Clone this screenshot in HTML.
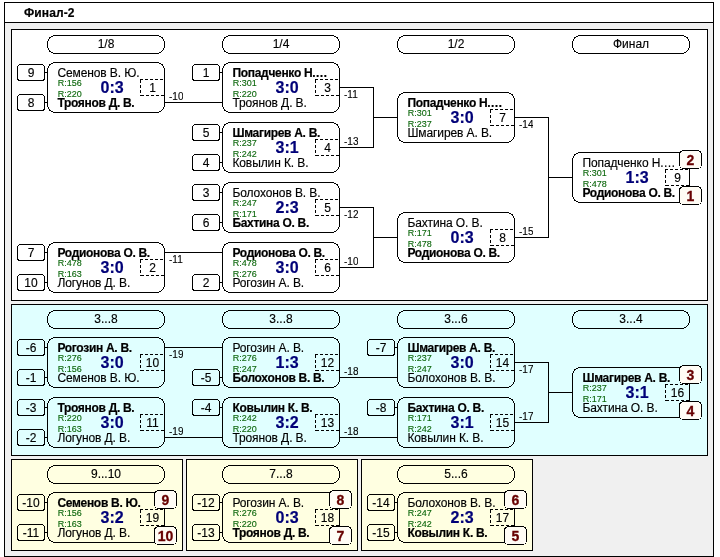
<!DOCTYPE html>
<html lang="ru">
<head>
<meta charset="utf-8">
<title>Финал-2</title>
<style>
html,body{margin:0;padding:0;background:#fff;}
body{width:720px;height:557px;overflow:hidden;position:relative;font-family:"Liberation Sans",sans-serif;color:#000;}
#g{position:absolute;left:0;top:0;width:720px;height:557px;}
#g rect{shape-rendering:crispEdges;}
#g .d{fill:none;stroke:#000;stroke-width:1;stroke-dasharray:3 2;shape-rendering:crispEdges;}
#t{position:absolute;left:0;top:0;width:720px;height:557px;will-change:transform;}
#t span{position:absolute;white-space:nowrap;line-height:20px;height:20px;overflow:hidden;}
.n,.h{font-size:12px;-webkit-text-stroke:0.15px #000;letter-spacing:-0.1px;}
.b{font-weight:bold;letter-spacing:-0.3px;-webkit-text-stroke:0.2px #000;}
.tt{font-weight:bold;letter-spacing:0.1px;-webkit-text-stroke:0.2px #000;}
.h{letter-spacing:0;}
.r{font-size:9px;color:#0b660b;-webkit-text-stroke:0.12px #0b660b;}
.s{font-size:16px;font-weight:bold;color:#000078;-webkit-text-stroke:0.2px #000078;}
.l{font-size:10px;-webkit-text-stroke:0.12px #000;}
.p{font-size:14px;font-weight:bold;color:#680000;-webkit-text-stroke:0.3px #680000;}
.c{text-align:center;}
</style>
</head>
<body>
<svg id="g" width="720" height="557" viewBox="0 0 720 557">
<rect x="4.5" y="2.5" width="709" height="554" fill="#f0f0f0" stroke="#000" shape-rendering="crispEdges"/>
<rect x="5" y="3" width="708" height="19" fill="#fff"/>
<rect x="4" y="22" width="710" height="1"/>
<rect x="11.5" y="29.5" width="696" height="271" fill="#ffffff" stroke="#000" shape-rendering="crispEdges"/>
<rect x="47.5" y="35.5" width="117" height="18" rx="8" ry="8" fill="#ffffff" stroke="#000"/>
<rect x="222.5" y="35.5" width="117" height="18" rx="8" ry="8" fill="#ffffff" stroke="#000"/>
<rect x="397.5" y="35.5" width="117" height="18" rx="8" ry="8" fill="#ffffff" stroke="#000"/>
<rect x="572.5" y="35.5" width="117" height="18" rx="8" ry="8" fill="#ffffff" stroke="#000"/>
<rect x="47.5" y="62.5" width="117" height="50" rx="8" ry="8" fill="#ffffff" stroke="#000"/>
<rect x="17.5" y="64.5" width="27" height="16" rx="3" ry="3" fill="#ffffff" stroke="#000"/>
<rect x="45" y="72" width="2" height="1"/>
<rect x="17.5" y="94.5" width="27" height="16" rx="3" ry="3" fill="#ffffff" stroke="#000"/>
<rect x="45" y="102" width="2" height="1"/>
<path class="d" d="M140 79.5H164M140.5 80V96M141 95.5H164"/>
<rect x="47.5" y="242.5" width="117" height="50" rx="8" ry="8" fill="#ffffff" stroke="#000"/>
<rect x="17.5" y="244.5" width="27" height="16" rx="3" ry="3" fill="#ffffff" stroke="#000"/>
<rect x="45" y="252" width="2" height="1"/>
<rect x="17.5" y="274.5" width="27" height="16" rx="3" ry="3" fill="#ffffff" stroke="#000"/>
<rect x="45" y="282" width="2" height="1"/>
<path class="d" d="M140 259.5H164M140.5 260V276M141 275.5H164"/>
<rect x="222.5" y="62.5" width="117" height="50" rx="8" ry="8" fill="#ffffff" stroke="#000"/>
<rect x="192.5" y="64.5" width="27" height="16" rx="3" ry="3" fill="#ffffff" stroke="#000"/>
<rect x="220" y="72" width="2" height="1"/>
<path class="d" d="M315 79.5H339M315.5 80V96M316 95.5H339"/>
<rect x="222.5" y="122.5" width="117" height="50" rx="8" ry="8" fill="#ffffff" stroke="#000"/>
<rect x="192.5" y="124.5" width="27" height="16" rx="3" ry="3" fill="#ffffff" stroke="#000"/>
<rect x="220" y="132" width="2" height="1"/>
<rect x="192.5" y="154.5" width="27" height="16" rx="3" ry="3" fill="#ffffff" stroke="#000"/>
<rect x="220" y="162" width="2" height="1"/>
<path class="d" d="M315 139.5H339M315.5 140V156M316 155.5H339"/>
<rect x="222.5" y="182.5" width="117" height="50" rx="8" ry="8" fill="#ffffff" stroke="#000"/>
<rect x="192.5" y="184.5" width="27" height="16" rx="3" ry="3" fill="#ffffff" stroke="#000"/>
<rect x="220" y="192" width="2" height="1"/>
<rect x="192.5" y="214.5" width="27" height="16" rx="3" ry="3" fill="#ffffff" stroke="#000"/>
<rect x="220" y="222" width="2" height="1"/>
<path class="d" d="M315 199.5H339M315.5 200V216M316 215.5H339"/>
<rect x="222.5" y="242.5" width="117" height="50" rx="8" ry="8" fill="#ffffff" stroke="#000"/>
<rect x="192.5" y="274.5" width="27" height="16" rx="3" ry="3" fill="#ffffff" stroke="#000"/>
<rect x="220" y="282" width="2" height="1"/>
<path class="d" d="M315 259.5H339M315.5 260V276M316 275.5H339"/>
<rect x="397.5" y="92.5" width="117" height="50" rx="8" ry="8" fill="#ffffff" stroke="#000"/>
<path class="d" d="M490 109.5H514M490.5 110V126M491 125.5H514"/>
<rect x="397.5" y="212.5" width="117" height="50" rx="8" ry="8" fill="#ffffff" stroke="#000"/>
<path class="d" d="M490 229.5H514M490.5 230V246M491 245.5H514"/>
<rect x="572.5" y="152.5" width="117" height="50" rx="8" ry="8" fill="#ffffff" stroke="#000"/>
<path class="d" d="M665 169.5H689M665.5 170V186M666 185.5H689"/>
<rect x="679.5" y="150.5" width="22" height="18" rx="4" ry="4" fill="#fffcf5" stroke="#000"/>
<rect x="679.5" y="186.5" width="22" height="18" rx="4" ry="4" fill="#fffcf5" stroke="#000"/>
<rect x="165" y="102" width="57" height="1"/>
<rect x="165" y="252" width="57" height="1"/>
<rect x="340" y="87" width="34" height="1"/>
<rect x="340" y="147" width="34" height="1"/>
<rect x="373" y="87" width="1" height="61"/>
<rect x="373" y="117" width="24" height="1"/>
<rect x="340" y="207" width="34" height="1"/>
<rect x="340" y="267" width="34" height="1"/>
<rect x="373" y="207" width="1" height="61"/>
<rect x="373" y="237" width="24" height="1"/>
<rect x="515" y="117" width="34" height="1"/>
<rect x="515" y="237" width="34" height="1"/>
<rect x="548" y="117" width="1" height="121"/>
<rect x="548" y="177" width="24" height="1"/>
<rect x="11.5" y="304.5" width="696" height="151" fill="#e0ffff" stroke="#000" shape-rendering="crispEdges"/>
<rect x="47.5" y="310.5" width="117" height="18" rx="8" ry="8" fill="#e0ffff" stroke="#000"/>
<rect x="222.5" y="310.5" width="117" height="18" rx="8" ry="8" fill="#e0ffff" stroke="#000"/>
<rect x="397.5" y="310.5" width="117" height="18" rx="8" ry="8" fill="#e0ffff" stroke="#000"/>
<rect x="572.5" y="310.5" width="117" height="18" rx="8" ry="8" fill="#e0ffff" stroke="#000"/>
<rect x="47.5" y="337.5" width="117" height="50" rx="8" ry="8" fill="#e0ffff" stroke="#000"/>
<rect x="17.5" y="339.5" width="27" height="16" rx="3" ry="3" fill="#e0ffff" stroke="#000"/>
<rect x="45" y="347" width="2" height="1"/>
<rect x="17.5" y="369.5" width="27" height="16" rx="3" ry="3" fill="#e0ffff" stroke="#000"/>
<rect x="45" y="377" width="2" height="1"/>
<path class="d" d="M140 354.5H164M140.5 355V371M141 370.5H164"/>
<rect x="47.5" y="397.5" width="117" height="50" rx="8" ry="8" fill="#e0ffff" stroke="#000"/>
<rect x="17.5" y="399.5" width="27" height="16" rx="3" ry="3" fill="#e0ffff" stroke="#000"/>
<rect x="45" y="407" width="2" height="1"/>
<rect x="17.5" y="429.5" width="27" height="16" rx="3" ry="3" fill="#e0ffff" stroke="#000"/>
<rect x="45" y="437" width="2" height="1"/>
<path class="d" d="M140 414.5H164M140.5 415V431M141 430.5H164"/>
<rect x="222.5" y="337.5" width="117" height="50" rx="8" ry="8" fill="#e0ffff" stroke="#000"/>
<rect x="192.5" y="369.5" width="27" height="16" rx="3" ry="3" fill="#e0ffff" stroke="#000"/>
<rect x="220" y="377" width="2" height="1"/>
<path class="d" d="M315 354.5H339M315.5 355V371M316 370.5H339"/>
<rect x="222.5" y="397.5" width="117" height="50" rx="8" ry="8" fill="#e0ffff" stroke="#000"/>
<rect x="192.5" y="399.5" width="27" height="16" rx="3" ry="3" fill="#e0ffff" stroke="#000"/>
<rect x="220" y="407" width="2" height="1"/>
<path class="d" d="M315 414.5H339M315.5 415V431M316 430.5H339"/>
<rect x="397.5" y="337.5" width="117" height="50" rx="8" ry="8" fill="#e0ffff" stroke="#000"/>
<rect x="367.5" y="339.5" width="27" height="16" rx="3" ry="3" fill="#e0ffff" stroke="#000"/>
<rect x="395" y="347" width="2" height="1"/>
<path class="d" d="M490 354.5H514M490.5 355V371M491 370.5H514"/>
<rect x="397.5" y="397.5" width="117" height="50" rx="8" ry="8" fill="#e0ffff" stroke="#000"/>
<rect x="367.5" y="399.5" width="27" height="16" rx="3" ry="3" fill="#e0ffff" stroke="#000"/>
<rect x="395" y="407" width="2" height="1"/>
<path class="d" d="M490 414.5H514M490.5 415V431M491 430.5H514"/>
<rect x="572.5" y="367.5" width="117" height="50" rx="8" ry="8" fill="#e0ffff" stroke="#000"/>
<path class="d" d="M665 384.5H689M665.5 385V401M666 400.5H689"/>
<rect x="679.5" y="365.5" width="22" height="18" rx="4" ry="4" fill="#fffcf5" stroke="#000"/>
<rect x="679.5" y="401.5" width="22" height="18" rx="4" ry="4" fill="#fffcf5" stroke="#000"/>
<rect x="165" y="347" width="57" height="1"/>
<rect x="165" y="437" width="57" height="1"/>
<rect x="340" y="377" width="57" height="1"/>
<rect x="340" y="437" width="57" height="1"/>
<rect x="515" y="362" width="34" height="1"/>
<rect x="515" y="422" width="34" height="1"/>
<rect x="548" y="362" width="1" height="61"/>
<rect x="548" y="392" width="24" height="1"/>
<rect x="11.5" y="459.5" width="171" height="91" fill="#ffffe1" stroke="#000" shape-rendering="crispEdges"/>
<rect x="47.5" y="465.5" width="117" height="18" rx="8" ry="8" fill="#ffffe1" stroke="#000"/>
<rect x="186.5" y="459.5" width="171" height="91" fill="#ffffe1" stroke="#000" shape-rendering="crispEdges"/>
<rect x="222.5" y="465.5" width="117" height="18" rx="8" ry="8" fill="#ffffe1" stroke="#000"/>
<rect x="361.5" y="459.5" width="171" height="91" fill="#ffffe1" stroke="#000" shape-rendering="crispEdges"/>
<rect x="397.5" y="465.5" width="117" height="18" rx="8" ry="8" fill="#ffffe1" stroke="#000"/>
<rect x="47.5" y="492.5" width="117" height="50" rx="8" ry="8" fill="#ffffe1" stroke="#000"/>
<rect x="17.5" y="494.5" width="27" height="16" rx="3" ry="3" fill="#ffffe1" stroke="#000"/>
<rect x="45" y="502" width="2" height="1"/>
<rect x="17.5" y="524.5" width="27" height="16" rx="3" ry="3" fill="#ffffe1" stroke="#000"/>
<rect x="45" y="532" width="2" height="1"/>
<path class="d" d="M140 509.5H164M140.5 510V526M141 525.5H164"/>
<rect x="154.5" y="490.5" width="22" height="18" rx="4" ry="4" fill="#fffcf5" stroke="#000"/>
<rect x="154.5" y="526.5" width="22" height="18" rx="4" ry="4" fill="#fffcf5" stroke="#000"/>
<rect x="222.5" y="492.5" width="117" height="50" rx="8" ry="8" fill="#ffffe1" stroke="#000"/>
<rect x="192.5" y="494.5" width="27" height="16" rx="3" ry="3" fill="#ffffe1" stroke="#000"/>
<rect x="220" y="502" width="2" height="1"/>
<rect x="192.5" y="524.5" width="27" height="16" rx="3" ry="3" fill="#ffffe1" stroke="#000"/>
<rect x="220" y="532" width="2" height="1"/>
<path class="d" d="M315 509.5H339M315.5 510V526M316 525.5H339"/>
<rect x="329.5" y="490.5" width="22" height="18" rx="4" ry="4" fill="#fffcf5" stroke="#000"/>
<rect x="329.5" y="526.5" width="22" height="18" rx="4" ry="4" fill="#fffcf5" stroke="#000"/>
<rect x="397.5" y="492.5" width="117" height="50" rx="8" ry="8" fill="#ffffe1" stroke="#000"/>
<rect x="367.5" y="494.5" width="27" height="16" rx="3" ry="3" fill="#ffffe1" stroke="#000"/>
<rect x="395" y="502" width="2" height="1"/>
<rect x="367.5" y="524.5" width="27" height="16" rx="3" ry="3" fill="#ffffe1" stroke="#000"/>
<rect x="395" y="532" width="2" height="1"/>
<path class="d" d="M490 509.5H514M490.5 510V526M491 525.5H514"/>
<rect x="504.5" y="490.5" width="22" height="18" rx="4" ry="4" fill="#fffcf5" stroke="#000"/>
<rect x="504.5" y="526.5" width="22" height="18" rx="4" ry="4" fill="#fffcf5" stroke="#000"/>
</svg>
<div id="t">
<span class="n tt" style="top:2.84px;left:24px;">Финал-2</span>
<span class="h c" style="top:33.84px;left:66.0px;width:80px;">1/8</span>
<span class="h c" style="top:33.84px;left:241.0px;width:80px;">1/4</span>
<span class="h c" style="top:33.84px;left:416.0px;width:80px;">1/2</span>
<span class="h c" style="top:33.84px;left:591.0px;width:80px;">Финал</span>
<span class="h c" style="top:62.84px;left:-9.0px;width:80px;">9</span>
<span class="h c" style="top:92.84px;left:-9.0px;width:80px;">8</span>
<span class="n" style="top:62.84px;left:57.4px;">Семенов В. Ю.</span>
<span class="r" style="top:72.58px;left:57.7px;">R:156</span>
<span class="r" style="top:83.58px;left:57.7px;">R:220</span>
<span class="n b" style="top:92.84px;left:57.4px;">Троянов Д. В.</span>
<span class="s" style="top:78.26px;left:100.5px;">0:3</span>
<span class="h c" style="top:77.84px;left:112.5px;width:80px;">1</span>
<span class="h c" style="top:242.84px;left:-9.0px;width:80px;">7</span>
<span class="h c" style="top:272.84px;left:-9.0px;width:80px;">10</span>
<span class="n b" style="top:242.84px;left:57.4px;">Родионова О. В.</span>
<span class="r" style="top:252.58px;left:57.7px;">R:478</span>
<span class="r" style="top:263.58px;left:57.7px;">R:163</span>
<span class="n" style="top:272.84px;left:57.4px;">Логунов Д. В.</span>
<span class="s" style="top:258.26px;left:100.5px;">3:0</span>
<span class="h c" style="top:257.84px;left:112.5px;width:80px;">2</span>
<span class="h c" style="top:62.84px;left:166.0px;width:80px;">1</span>
<span class="n b" style="top:62.84px;left:232.4px;">Попадченко Н.…</span>
<span class="r" style="top:72.58px;left:232.7px;">R:301</span>
<span class="r" style="top:83.58px;left:232.7px;">R:220</span>
<span class="n" style="top:92.84px;left:232.4px;">Троянов Д. В.</span>
<span class="s" style="top:78.26px;left:275.5px;">3:0</span>
<span class="h c" style="top:77.84px;left:287.5px;width:80px;">3</span>
<span class="h c" style="top:122.84px;left:166.0px;width:80px;">5</span>
<span class="h c" style="top:152.84px;left:166.0px;width:80px;">4</span>
<span class="n b" style="top:122.84px;left:232.4px;">Шмагирев А. В.</span>
<span class="r" style="top:132.58px;left:232.7px;">R:237</span>
<span class="r" style="top:143.58px;left:232.7px;">R:242</span>
<span class="n" style="top:152.84px;left:232.4px;">Ковылин К. В.</span>
<span class="s" style="top:138.26px;left:275.5px;">3:1</span>
<span class="h c" style="top:137.84px;left:287.5px;width:80px;">4</span>
<span class="h c" style="top:182.84px;left:166.0px;width:80px;">3</span>
<span class="h c" style="top:212.84px;left:166.0px;width:80px;">6</span>
<span class="n" style="top:182.84px;left:232.4px;">Болохонов В. В.</span>
<span class="r" style="top:192.58px;left:232.7px;">R:247</span>
<span class="r" style="top:203.58px;left:232.7px;">R:171</span>
<span class="n b" style="top:212.84px;left:232.4px;">Бахтина О. В.</span>
<span class="s" style="top:198.26px;left:275.5px;">2:3</span>
<span class="h c" style="top:197.84px;left:287.5px;width:80px;">5</span>
<span class="h c" style="top:272.84px;left:166.0px;width:80px;">2</span>
<span class="n b" style="top:242.84px;left:232.4px;">Родионова О. В.</span>
<span class="r" style="top:252.58px;left:232.7px;">R:478</span>
<span class="r" style="top:263.58px;left:232.7px;">R:276</span>
<span class="n" style="top:272.84px;left:232.4px;">Рогозин А. В.</span>
<span class="s" style="top:258.26px;left:275.5px;">3:0</span>
<span class="h c" style="top:257.84px;left:287.5px;width:80px;">6</span>
<span class="n b" style="top:92.84px;left:407.4px;">Попадченко Н.…</span>
<span class="r" style="top:102.58px;left:407.7px;">R:301</span>
<span class="r" style="top:113.58px;left:407.7px;">R:237</span>
<span class="n" style="top:122.84px;left:407.4px;">Шмагирев А. В.</span>
<span class="s" style="top:108.26px;left:450.5px;">3:0</span>
<span class="h c" style="top:107.84px;left:462.5px;width:80px;">7</span>
<span class="n" style="top:212.84px;left:407.4px;">Бахтина О. В.</span>
<span class="r" style="top:222.58px;left:407.7px;">R:171</span>
<span class="r" style="top:233.58px;left:407.7px;">R:478</span>
<span class="n b" style="top:242.84px;left:407.4px;">Родионова О. В.</span>
<span class="s" style="top:228.26px;left:450.5px;">0:3</span>
<span class="h c" style="top:227.84px;left:462.5px;width:80px;">8</span>
<span class="n" style="top:152.84px;left:582.4px;width:97px;">Попадченко Н.…</span>
<span class="r" style="top:162.58px;left:582.7px;">R:301</span>
<span class="r" style="top:173.58px;left:582.7px;">R:478</span>
<span class="n b" style="top:182.84px;left:582.4px;width:97px;">Родионова О. В.</span>
<span class="s" style="top:168.26px;left:625.5px;">1:3</span>
<span class="h c" style="top:167.84px;left:637.5px;width:80px;">9</span>
<span class="p c" style="top:150.15px;left:650.5px;width:80px;">2</span>
<span class="p c" style="top:186.15px;left:650.5px;width:80px;">1</span>
<span class="l" style="top:86.53px;left:169px;">-10</span>
<span class="l" style="top:249.53px;left:169px;">-11</span>
<span class="l" style="top:84.53px;left:344px;">-11</span>
<span class="l" style="top:131.53px;left:344px;">-13</span>
<span class="l" style="top:204.53px;left:344px;">-12</span>
<span class="l" style="top:251.53px;left:344px;">-10</span>
<span class="l" style="top:114.53px;left:519px;">-14</span>
<span class="l" style="top:221.53px;left:519px;">-15</span>
<span class="h c" style="top:308.84px;left:66.0px;width:80px;">3...8</span>
<span class="h c" style="top:308.84px;left:241.0px;width:80px;">3...8</span>
<span class="h c" style="top:308.84px;left:416.0px;width:80px;">3...6</span>
<span class="h c" style="top:308.84px;left:591.0px;width:80px;">3...4</span>
<span class="h c" style="top:337.84px;left:-9.0px;width:80px;">-6</span>
<span class="h c" style="top:367.84px;left:-9.0px;width:80px;">-1</span>
<span class="n b" style="top:337.84px;left:57.4px;">Рогозин А. В.</span>
<span class="r" style="top:347.58px;left:57.7px;">R:276</span>
<span class="r" style="top:358.58px;left:57.7px;">R:156</span>
<span class="n" style="top:367.84px;left:57.4px;">Семенов В. Ю.</span>
<span class="s" style="top:353.26px;left:100.5px;">3:0</span>
<span class="h c" style="top:352.84px;left:112.5px;width:80px;">10</span>
<span class="h c" style="top:397.84px;left:-9.0px;width:80px;">-3</span>
<span class="h c" style="top:427.84px;left:-9.0px;width:80px;">-2</span>
<span class="n b" style="top:397.84px;left:57.4px;">Троянов Д. В.</span>
<span class="r" style="top:407.58px;left:57.7px;">R:220</span>
<span class="r" style="top:418.58px;left:57.7px;">R:163</span>
<span class="n" style="top:427.84px;left:57.4px;">Логунов Д. В.</span>
<span class="s" style="top:413.26px;left:100.5px;">3:0</span>
<span class="h c" style="top:412.84px;left:112.5px;width:80px;">11</span>
<span class="h c" style="top:367.84px;left:166.0px;width:80px;">-5</span>
<span class="n" style="top:337.84px;left:232.4px;">Рогозин А. В.</span>
<span class="r" style="top:347.58px;left:232.7px;">R:276</span>
<span class="r" style="top:358.58px;left:232.7px;">R:247</span>
<span class="n b" style="top:367.84px;left:232.4px;">Болохонов В. В.</span>
<span class="s" style="top:353.26px;left:275.5px;">1:3</span>
<span class="h c" style="top:352.84px;left:287.5px;width:80px;">12</span>
<span class="h c" style="top:397.84px;left:166.0px;width:80px;">-4</span>
<span class="n b" style="top:397.84px;left:232.4px;">Ковылин К. В.</span>
<span class="r" style="top:407.58px;left:232.7px;">R:242</span>
<span class="r" style="top:418.58px;left:232.7px;">R:220</span>
<span class="n" style="top:427.84px;left:232.4px;">Троянов Д. В.</span>
<span class="s" style="top:413.26px;left:275.5px;">3:2</span>
<span class="h c" style="top:412.84px;left:287.5px;width:80px;">13</span>
<span class="h c" style="top:337.84px;left:341.0px;width:80px;">-7</span>
<span class="n b" style="top:337.84px;left:407.4px;">Шмагирев А. В.</span>
<span class="r" style="top:347.58px;left:407.7px;">R:237</span>
<span class="r" style="top:358.58px;left:407.7px;">R:247</span>
<span class="n" style="top:367.84px;left:407.4px;">Болохонов В. В.</span>
<span class="s" style="top:353.26px;left:450.5px;">3:0</span>
<span class="h c" style="top:352.84px;left:462.5px;width:80px;">14</span>
<span class="h c" style="top:397.84px;left:341.0px;width:80px;">-8</span>
<span class="n b" style="top:397.84px;left:407.4px;">Бахтина О. В.</span>
<span class="r" style="top:407.58px;left:407.7px;">R:171</span>
<span class="r" style="top:418.58px;left:407.7px;">R:242</span>
<span class="n" style="top:427.84px;left:407.4px;">Ковылин К. В.</span>
<span class="s" style="top:413.26px;left:450.5px;">3:1</span>
<span class="h c" style="top:412.84px;left:462.5px;width:80px;">15</span>
<span class="n b" style="top:367.84px;left:582.4px;width:97px;">Шмагирев А. В.</span>
<span class="r" style="top:377.58px;left:582.7px;">R:237</span>
<span class="r" style="top:388.58px;left:582.7px;">R:171</span>
<span class="n" style="top:397.84px;left:582.4px;width:97px;">Бахтина О. В.</span>
<span class="s" style="top:383.26px;left:625.5px;">3:1</span>
<span class="h c" style="top:382.84px;left:637.5px;width:80px;">16</span>
<span class="p c" style="top:365.15px;left:650.5px;width:80px;">3</span>
<span class="p c" style="top:401.15px;left:650.5px;width:80px;">4</span>
<span class="l" style="top:344.54px;left:169px;">-19</span>
<span class="l" style="top:421.54px;left:169px;">-19</span>
<span class="l" style="top:361.54px;left:344px;">-18</span>
<span class="l" style="top:421.54px;left:344px;">-18</span>
<span class="l" style="top:359.54px;left:519px;">-17</span>
<span class="l" style="top:406.54px;left:519px;">-17</span>
<span class="h c" style="top:463.84px;left:66.0px;width:80px;">9...10</span>
<span class="h c" style="top:463.84px;left:241.0px;width:80px;">7...8</span>
<span class="h c" style="top:463.84px;left:416.0px;width:80px;">5...6</span>
<span class="h c" style="top:492.84px;left:-9.0px;width:80px;">-10</span>
<span class="h c" style="top:522.84px;left:-9.0px;width:80px;">-11</span>
<span class="n b" style="top:492.84px;left:57.4px;width:97px;">Семенов В. Ю.</span>
<span class="r" style="top:502.58px;left:57.7px;">R:156</span>
<span class="r" style="top:513.58px;left:57.7px;">R:163</span>
<span class="n" style="top:522.84px;left:57.4px;width:97px;">Логунов Д. В.</span>
<span class="s" style="top:508.26px;left:100.5px;">3:2</span>
<span class="h c" style="top:507.84px;left:112.5px;width:80px;">19</span>
<span class="p c" style="top:490.15px;left:125.5px;width:80px;">9</span>
<span class="p c" style="top:526.15px;left:125.5px;width:80px;">10</span>
<span class="h c" style="top:492.84px;left:166.0px;width:80px;">-12</span>
<span class="h c" style="top:522.84px;left:166.0px;width:80px;">-13</span>
<span class="n" style="top:492.84px;left:232.4px;width:97px;">Рогозин А. В.</span>
<span class="r" style="top:502.58px;left:232.7px;">R:276</span>
<span class="r" style="top:513.58px;left:232.7px;">R:220</span>
<span class="n b" style="top:522.84px;left:232.4px;width:97px;">Троянов Д. В.</span>
<span class="s" style="top:508.26px;left:275.5px;">0:3</span>
<span class="h c" style="top:507.84px;left:287.5px;width:80px;">18</span>
<span class="p c" style="top:490.15px;left:300.5px;width:80px;">8</span>
<span class="p c" style="top:526.15px;left:300.5px;width:80px;">7</span>
<span class="h c" style="top:492.84px;left:341.0px;width:80px;">-14</span>
<span class="h c" style="top:522.84px;left:341.0px;width:80px;">-15</span>
<span class="n" style="top:492.84px;left:407.4px;width:97px;">Болохонов В. В.</span>
<span class="r" style="top:502.58px;left:407.7px;">R:247</span>
<span class="r" style="top:513.58px;left:407.7px;">R:242</span>
<span class="n b" style="top:522.84px;left:407.4px;width:97px;">Ковылин К. В.</span>
<span class="s" style="top:508.26px;left:450.5px;">2:3</span>
<span class="h c" style="top:507.84px;left:462.5px;width:80px;">17</span>
<span class="p c" style="top:490.15px;left:475.5px;width:80px;">6</span>
<span class="p c" style="top:526.15px;left:475.5px;width:80px;">5</span>
</div>
</body>
</html>
